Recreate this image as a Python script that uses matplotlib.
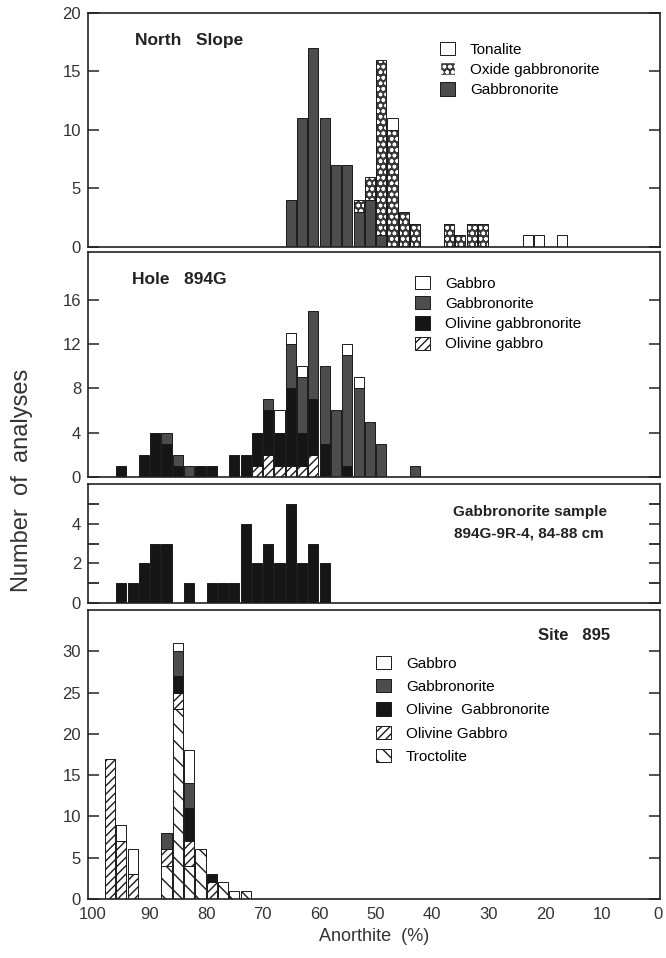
import matplotlib
matplotlib.use("Agg")
import matplotlib.pyplot as plt
from matplotlib.patches import Patch
import numpy as np

plt.rcParams['font.family'] = ['Liberation Sans', 'DejaVu Sans']
plt.rcParams['hatch.linewidth'] = 1.0

# ---- data: bin centres (% An) and counts per rock type ----
# North Slope
ns_bins = [65, 63, 61, 59, 57, 55, 53, 51, 49, 47, 45, 43, 37, 35, 33, 31, 23, 21, 17]
ns_gabbronorite = [4, 11, 17, 11, 7, 7, 3, 4, 1, 0, 0, 0, 0, 0, 0, 0, 0, 0, 0]
ns_oxide = [0, 0, 0, 0, 0, 0, 1, 2, 15, 10, 3, 2, 2, 1, 2, 2, 0, 0, 0]
ns_tonalite = [0, 0, 0, 0, 0, 0, 0, 0, 0, 1, 0, 0, 0, 0, 0, 0, 1, 1, 1]

# Hole 894G
h_bins = [95, 91, 89, 87, 85, 83, 81, 79, 75, 73, 71, 69, 67, 65, 63, 61, 59, 57, 55, 53, 51, 49, 43]
h_ol_gabbro = [0, 0, 0, 0, 0, 0, 0, 0, 0, 0, 1, 2, 1, 1, 1, 2, 0, 0, 0, 0, 0, 0, 0]
h_ol_gabbronorite = [1, 2, 4, 3, 1, 0, 1, 1, 2, 2, 3, 4, 3, 7, 3, 5, 3, 0, 1, 0, 0, 0, 0]
h_gabbronorite = [0, 0, 0, 1, 1, 1, 0, 0, 0, 0, 0, 1, 0, 4, 5, 8, 7, 6, 10, 8, 5, 3, 1]
h_gabbro = [0, 0, 0, 0, 0, 0, 0, 0, 0, 0, 0, 0, 2, 1, 1, 0, 0, 0, 1, 1, 0, 0, 0]

# Gabbronorite sample 894G-9R-4
s_bins = [95, 93, 91, 89, 87, 83, 79, 77, 75, 73, 71, 69, 67, 65, 63, 61, 59]
s_counts = [1, 1, 2, 3, 3, 1, 1, 1, 1, 4, 2, 3, 2, 5, 2, 3, 2]

# Site 895
t_bins = [97, 95, 93, 87, 85, 83, 81, 79, 77, 75, 73]
t_troctolite = [0, 0, 0, 4, 23, 4, 6, 0, 2, 1, 1]
t_ol_gabbro = [17, 7, 3, 2, 2, 3, 0, 2, 0, 0, 0]
t_ol_gabbronorite = [0, 0, 0, 0, 2, 4, 0, 1, 0, 0, 0]
t_gabbronorite = [0, 0, 0, 2, 3, 3, 0, 0, 0, 0, 0]
t_gabbro = [0, 2, 3, 0, 1, 4, 0, 0, 0, 0, 0]

GREY = '#4d4d4d'
BLACK = '#161616'
OXIDE = '#3a3a3a'
W = 1.8
EDGE = dict(edgecolor='#1a1a1a', linewidth=0.7)

STYLE = {
    'white': dict(facecolor='white', **EDGE),
    'grey': dict(facecolor=GREY, **EDGE),
    'black': dict(facecolor=BLACK, **EDGE),
    'olgab': dict(facecolor='white', hatch='////', **EDGE),
    'troct': dict(facecolor='white', hatch='\\\\', **EDGE),
}


def draw_oxide(ax, x, h, bottom):
    ax.bar(x, h, W, bottom=bottom, facecolor=OXIDE, edgecolor='white',
           hatch='ooo', linewidth=0)
    ax.bar(x, h, W, bottom=bottom, fill=False, **EDGE)


def stack(ax, bins, layers):
    bottom = np.zeros(len(bins))
    for vals, kind in layers:
        vals = np.array(vals, dtype=float)
        m = vals > 0
        x = np.array(bins)[m]
        if kind == 'oxide':
            draw_oxide(ax, x, vals[m], bottom[m])
        else:
            ax.bar(x, vals[m], W, bottom=bottom[m], **STYLE[kind])
        bottom += vals


def legend(ax, entries, x, y, spacing, fs=11):
    handles = []
    for label, kind in entries:
        if kind == 'oxide':
            handles.append(Patch(facecolor=OXIDE, edgecolor='white', hatch='ooo', label=label))
        else:
            handles.append(Patch(label=label, **STYLE[kind]))
    leg = ax.legend(handles=handles, loc='upper left', bbox_to_anchor=(x / 666, 1 - y / 958),
                    bbox_transform=fig.transFigure, frameon=False, fontsize=fs,
                    handlelength=0.95, handleheight=0.95, handletextpad=1.0,
                    labelspacing=spacing, borderpad=0, borderaxespad=0)
    return leg


fig = plt.figure(figsize=(6.66, 9.58), dpi=100)
L, R = 88 / 666, 660 / 666


def make_ax(top_px, bot_px):
    ax = fig.add_axes([L, 1 - bot_px / 958, R - L, (bot_px - top_px) / 958])
    ax.set_xlim(100.9, -0.35)
    for s in ax.spines.values():
        s.set_linewidth(1.2)
        s.set_color('#222222')
    ax.tick_params(axis='y', direction='in', length=8, width=1.1, left=True, right=True,
                   labelsize=12, pad=5, colors='#222222', labelcolor='#333333')
    ax.tick_params(axis='y', which='minor', direction='in', length=8, width=1.1, left=True, right=True)
    ax.tick_params(axis='x', length=0, labelbottom=False)
    return ax


# ---- North Slope ----
ax1 = make_ax(13, 247)
stack(ax1, ns_bins, [(ns_gabbronorite, 'grey'), (ns_oxide, 'oxide'), (ns_tonalite, 'white')])
ax1.set_ylim(0, 20)
ax1.set_yticks([0, 5, 10, 15, 20])
ax1.text(135 / 666, 1 - 40 / 958, 'North   Slope', transform=fig.transFigure,
         fontsize=12.5, fontweight='bold', va='center', color='#222222')
legend(ax1, [('Tonalite', 'white'), ('Oxide gabbronorite', 'oxide'), ('Gabbronorite', 'grey')],
       440, 42, 0.35)

# ---- Hole 894G ----
ax2 = make_ax(252, 477)
stack(ax2, h_bins, [(h_ol_gabbro, 'olgab'), (h_ol_gabbronorite, 'black'),
                    (h_gabbronorite, 'grey'), (h_gabbro, 'white')])
ax2.set_ylim(0, 20.3)
ax2.set_yticks([0, 4, 8, 12, 16])
ax2.text(132 / 666, 1 - 279 / 958, 'Hole   894G', transform=fig.transFigure,
         fontsize=12.5, fontweight='bold', va='center', color='#222222')
legend(ax2, [('Gabbro', 'white'), ('Gabbronorite', 'grey'),
             ('Olivine gabbronorite', 'black'), ('Olivine gabbro', 'olgab')],
       415, 276, 0.35)

# ---- Gabbronorite sample ----
ax3 = make_ax(484, 603)
ax3.bar(s_bins, s_counts, W, **STYLE['black'])
ax3.set_ylim(0, 6)
ax3.set_yticks([0, 2, 4])
ax3.set_yticks([1, 3, 5], minor=True)
ax3.text(607 / 666, 1 - 512 / 958, 'Gabbronorite sample', transform=fig.transFigure,
         fontsize=11, fontweight='bold', ha='right', va='center', color='#222222')
ax3.text(604 / 666, 1 - 533 / 958, '894G-9R-4, 84-88 cm', transform=fig.transFigure,
         fontsize=11, fontweight='bold', ha='right', va='center', color='#222222')

# ---- Site 895 ----
ax4 = make_ax(610, 899)
stack(ax4, t_bins, [(t_troctolite, 'troct'), (t_ol_gabbro, 'olgab'),
                    (t_ol_gabbronorite, 'black'), (t_gabbronorite, 'grey'), (t_gabbro, 'white')])
ax4.set_ylim(0, 35)
ax4.set_yticks([0, 5, 10, 15, 20, 25, 30])
ax4.text(538 / 666, 1 - 635 / 958, 'Site   895', transform=fig.transFigure,
         fontsize=12, fontweight='bold', va='center', color='#222222')
legend(ax4, [('Gabbro', 'white'), ('Gabbronorite', 'grey'), ('Olivine  Gabbronorite', 'black'),
             ('Olivine Gabbro', 'olgab'), ('Troctolite', 'troct')],
       376, 656, 0.55)
ax4.set_xticks([100, 90, 80, 70, 60, 50, 40, 30, 20, 10, 0])
ax4.tick_params(axis='x', labelbottom=True, labelsize=12, pad=6, labelcolor='#333333')
ax4.set_xlabel('Anorthite  (%)', fontsize=13, color='#333333', labelpad=4)

fig.text(22 / 666, 1 - 480 / 958, 'Number  of  analyses', rotation=90, fontsize=17,
         ha='center', va='center', color='#333333')

fig.savefig('out.png', dpi=100)
